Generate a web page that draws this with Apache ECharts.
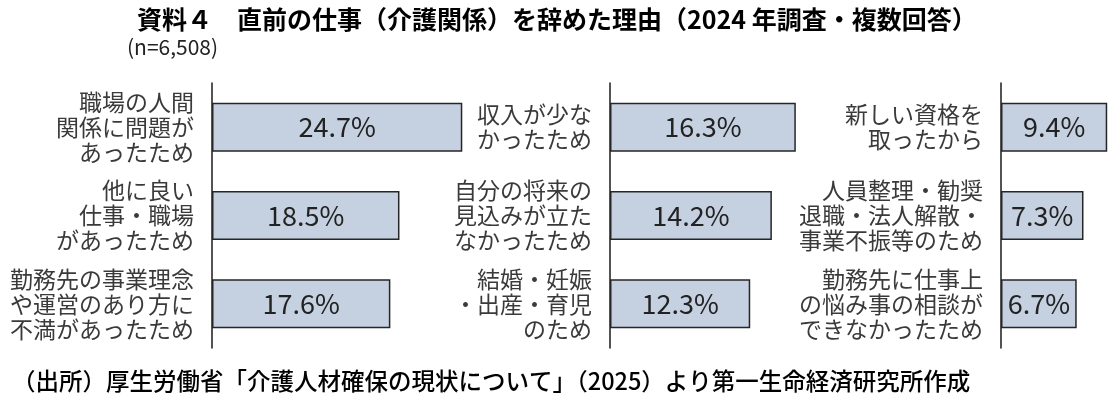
<!DOCTYPE html>
<html>
<head>
<meta charset="utf-8">
<script src="https://cdn.jsdelivr.net/npm/echarts@6/dist/echarts.min.js"></script>
<style>
  html, body { margin: 0; padding: 0; background: #fff; }
  #chart { width: 1114px; height: 397px; }
</style>
</head>
<body>
<div id="chart"></div>
<script>
// 左の列
const reasons1 = ['職場の人間\n関係に問題が\nあったため', '他に良い\n仕事・職場\nがあったため', '勤務先の事業理念\nや運営のあり方に\n不満があったため']
const values1 = [24.7, 18.5, 17.6]
// 中央の列
const reasons2 = ['収入が少な\nかったため', '自分の将来の\n見込みが立た\nなかったため', '結婚・妊娠\n・出産・育児\nのため']
const values2 = [16.3, 14.2, 12.3]
// 右の列
const reasons3 = ['新しい資格を\n取ったから', '人員整理・勧奨\n退職・法人解散・\n事業不振等のため', '勤務先に仕事上\nの悩み事の相談が\nできなかったため']
const values3 = [9.4, 7.3, 6.7]
const axisMax = [30, 20, 10]

const FONT = 'Noto Sans CJK JP'
const panels = [
  { cats: reasons1, vals: values1, left: 212, width: 304 },
  { cats: reasons2, vals: values2, left: 610, width: 228 },
  { cats: reasons3, vals: values3, left: 1001, width: 114 },
]

const chart = echarts.init(document.getElementById('chart'))
const option = {
  backgroundColor: '#fff',
  animation: false,
  textStyle: { fontFamily: FONT },
  title: {
    text: '資料４　直前の仕事（介護関係）を辞めた理由（2024 年調査・複数回答）',
    left: 132,
    top: 2,
    textStyle: { fontFamily: FONT, fontSize: 25, fontWeight: 'bold', color: '#000' }
  },
  graphic: [
    {
      type: 'text', left: 127, top: 37,
      style: { text: '(n=6,508)', fontFamily: FONT, fontSize: 21, fill: '#222' }
    },
    {
      type: 'text', left: 12, top: 369,
      style: {
        text: '（出所）厚生労働省「介護人材確保の現状について」（2025）より第一生命経済研究所作成',
        fontFamily: FONT, fontSize: 23.5, fontWeight: 500, fill: '#000'
      }
    }
  ],
  grid: [],
  xAxis: [],
  yAxis: [],
  series: []
}

panels.forEach((p, i) => {
  option.grid.push({ left: p.left, top: 83, width: p.width, height: 265 })
  option.xAxis.push({ type: 'value', gridIndex: i, min: 0, max: axisMax[i], show: false })
  option.yAxis.push({
    type: 'category',
    gridIndex: i,
    inverse: true,
    data: p.cats,
    axisLine: { lineStyle: { color: '#1a1a1a', width: 1.5 } },
    axisTick: { show: false },
    axisLabel: {
      margin: 18,
      fontFamily: FONT,
      fontSize: 23,
      lineHeight: 25,
      color: '#3a3a3a',
      align: 'right'
    }
  })
  option.series.push({
    type: 'bar',
    xAxisIndex: i,
    yAxisIndex: i,
    data: p.vals,
    barWidth: 49,
    itemStyle: { color: '#c5d0e1', borderColor: '#262626', borderWidth: 1.5 },
    label: {
      show: true,
      position: 'inside',
      formatter: '{c}%',
      fontFamily: FONT,
      fontSize: 27,
      color: '#222'
    }
  })
})

chart.setOption(option)
</script>
</body>
</html>
